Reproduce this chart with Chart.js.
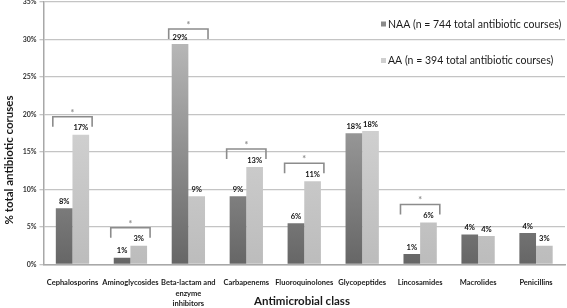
<!DOCTYPE html>
<html><head><meta charset="utf-8">
<script src="https://cdn.jsdelivr.net/npm/chart.js@4/dist/chart.umd.min.js"></script>
<style>html,body{margin:0;padding:0;background:#fff}</style>
</head><body>
<canvas id="c" width="567" height="308"></canvas>
<script>
const categories = ['Cephalosporins','Aminoglycosides',['Beta-lactam and','enzyme','inhibitors'],'Carbapenems','Fluoroquinolones','Glycopeptides','Lincosamides','Macrolides','Penicillins'];
const naaValues = [7.5, 0.9, 29.4, 9.1, 5.5, 17.5, 1.4, 4.0, 4.2];
const aaValues  = [17.3, 2.5, 9.1, 13.0, 11.1, 17.8, 5.6, 3.8, 2.5];
const significant = [true, true, true, true, true, false, true, false, false];
const seriesNames = ['NAA (n = 744 total antibiotic courses)', 'AA (n = 394 total antibiotic courses)'];
const yTitle = '% total antibiotic coruses';
const xTitle = 'Antimicrobial class';

const FONT = 'Lato, "Open Sans", sans-serif';

function grad(top, bottom) {
  return (ctx) => {
    const a = ctx.chart.chartArea;
    if (!a) return bottom;
    const g = ctx.chart.ctx.createLinearGradient(0, a.top, 0, a.bottom);
    g.addColorStop(0, top);
    g.addColorStop(1, bottom);
    return g;
  };
}

const annot = {
  id: 'annot',
  afterDatasetsDraw(chart) {
    const ctx = chart.ctx;
    const m0 = chart.getDatasetMeta(0), m1 = chart.getDatasetMeta(1);
    const area = chart.chartArea;
    ctx.save();
    ctx.font = 'bold 7.5px ' + FONT;
    ctx.fillStyle = '#111';
    ctx.textAlign = 'center';
    ctx.textBaseline = 'bottom';
    [m0, m1].forEach((m, di) => m.data.forEach((b, i) => {
      const v = chart.data.datasets[di].data[i];
      ctx.fillText(Math.round(v) + '%', b.x, b.y - 3);
    }));
    significant.forEach((s, i) => {
      if (!s) return;
      const b0 = m0.data[i], b1 = m1.data[i];
      const l = b0.x - b0.width / 2 - 3, r = b1.x + b1.width / 2 + 3;
      let top = Math.min(b0.y, b1.y) - 18;
      top = Math.max(top, area.top + 27);
      ctx.strokeStyle = '#8c8c8c';
      ctx.lineWidth = 1.6;
      ctx.beginPath();
      ctx.moveTo(l, top + 10); ctx.lineTo(l, top); ctx.lineTo(r, top); ctx.lineTo(r, top + 10);
      ctx.stroke();
      ctx.fillStyle = '#8c8c8c';
      ctx.font = 'bold 9px ' + FONT;
      ctx.textBaseline = 'middle';
      ctx.fillText('*', (l + r) / 2, top - 4);
      ctx.textBaseline = 'bottom';
    });
    ctx.restore();
  },
  afterDraw(chart) {
    const ctx = chart.ctx;
    ctx.save();
    const cols = ['#8a8a8a', '#cfcfcf'];
    const ys = [24.5, 61];
    ctx.font = '10.5px ' + FONT;
    ctx.textBaseline = 'middle';
    ctx.textAlign = 'left';
    seriesNames.forEach((n, i) => {
      ctx.fillStyle = cols[i];
      ctx.fillRect(381, ys[i] - 3, 5, 5);
      ctx.fillStyle = '#1a1a1a';
      ctx.fillText(n, 388, ys[i]);
    });
    ctx.font = 'bold 11.5px ' + FONT;
    ctx.textAlign = 'center';
    ctx.fillText(xTitle, 302, 301);
    ctx.translate(9, 160);
    ctx.rotate(-Math.PI / 2);
    ctx.font = 'bold 11.5px ' + FONT;
    ctx.fillText(yTitle, 0, 0);
    ctx.restore();
  }
};

new Chart(document.getElementById('c'), {
  type: 'bar',
  data: {
    labels: categories,
    datasets: [
      { label: seriesNames[0], data: naaValues, backgroundColor: grad('#c6c6c6', '#666666') },
      { label: seriesNames[1], data: aaValues, backgroundColor: grad('#e2e2e2', '#bcbcbc') }
    ]
  },
  plugins: [annot],
  options: {
    responsive: false,
    devicePixelRatio: 1,
    animation: false,
    categoryPercentage: 0.575,
    barPercentage: 1.0,
    layout: { padding: { top: 2, right: 2, left: 0, bottom: 0 } },
    plugins: { legend: { display: false }, tooltip: { enabled: false } },
    scales: {
      x: {
        grid: { display: false },
        border: { color: '#a8a8a8', width: 1.5 },
        ticks: { font: { family: FONT, size: 7.5, weight: 'bold', lineHeight: 1.4 }, color: '#1a1a1a', maxRotation: 0, autoSkip: false, padding: 5 },
        afterFit(s) { s.height = 43.5; s.paddingLeft = 0; s.paddingRight = 0; }
      },
      y: {
        min: 0, max: 35,
        ticks: { stepSize: 5, callback: v => v + '%', font: { family: FONT, size: 7, weight: 'bold' }, color: '#333', padding: 3 },
        grid: { color: '#c4c4c4', lineWidth: 1.3, tickLength: 4 },
        border: { color: '#a8a8a8', width: 1.5 },
        afterFit(s) { s.width = 43.5; s.paddingTop = 0; s.paddingBottom = 0; }
      }
    }
  }
});
</script>
</body></html>
